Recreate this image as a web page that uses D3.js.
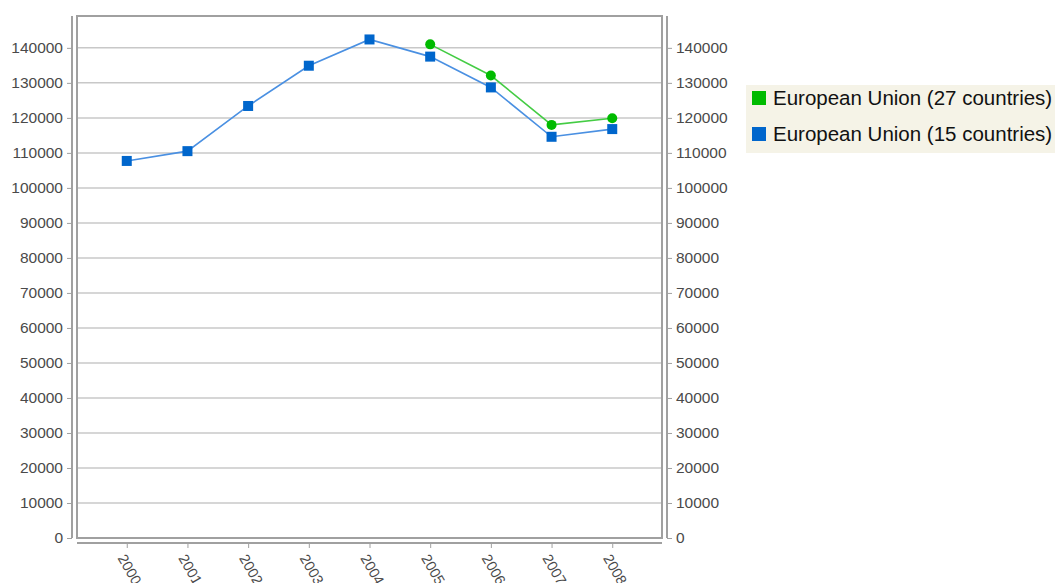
<!DOCTYPE html>
<html><head><meta charset="utf-8">
<script src="https://cdn.jsdelivr.net/npm/d3@7"></script>
<style>body{margin:0;background:#fff}svg{display:block}</style>
</head><body>
<svg id="c" width="1055" height="583"></svg>
<script>
const years = ["2000","2001","2002","2003","2004","2005","2006","2007","2008"];
const eu15 = [107700,110500,123400,134900,142400,137500,128700,114600,116800];
const eu27 = [null,null,null,null,null,141000,132100,118000,119900];
const yTicks = [0,10000,20000,30000,40000,50000,60000,70000,80000,90000,100000,110000,120000,130000,140000];
const seriesNames = ["European Union (27 countries)","European Union (15 countries)"];
const seriesColors = ["#00bb00","#0066cc"];

const svg = d3.select("#c");
const L = 77, R = 662, T = 16, B = 538;
const y = d3.scaleLinear().domain([0,149100]).range([B,T]);
const x = d3.scalePoint().domain(years).range([L,R]).padding(0.82);
const font = "'Liberation Sans', Arial, sans-serif";
const tc = "#4a4a4a";

// grid
svg.append("g").selectAll("line").data(yTicks.filter(d=>d>0)).join("line")
  .attr("x1",L).attr("x2",R).attr("y1",d=>y(d)).attr("y2",d=>y(d))
  .attr("stroke","#c8c8c8").attr("stroke-width",1.5);

// plot frame
svg.append("rect").attr("x",L).attr("y",T).attr("width",R-L).attr("height",B-T)
  .attr("fill","none").attr("stroke","#a0a0a0").attr("stroke-width",2);

// left axis
const la = svg.append("g").attr("transform",`translate(${L-5},0)`)
  .call(d3.axisLeft(y).tickValues(yTicks).tickSize(5).tickPadding(4).tickFormat(d3.format("d")));
// right axis
const ra = svg.append("g").attr("transform",`translate(${R+5},0)`)
  .call(d3.axisRight(y).tickValues(yTicks).tickSize(5).tickPadding(4).tickFormat(d3.format("d")));
[la,ra].forEach(g=>{
  g.select(".domain").attr("d",`M0,${T}V${B}`).attr("stroke","#a0a0a0").attr("stroke-width",2);
  g.selectAll(".tick line").attr("stroke","#a0a0a0");
  g.selectAll("text").attr("font-family",font).attr("font-size",15.5).attr("fill",tc);
});
// bottom axis
const ba = svg.append("g").attr("transform",`translate(0,${B+5})`)
  .call(d3.axisBottom(x).tickSize(5).tickPadding(0));
ba.select(".domain").attr("d",`M${L},0H${R}`).attr("stroke","#a0a0a0").attr("stroke-width",2);
ba.selectAll(".tick line").attr("stroke","#a0a0a0");
ba.selectAll("text").attr("font-family",font).attr("font-size",14.5).attr("fill",tc)
  .attr("text-anchor","start").attr("dy",0).attr("y",0)
  .attr("transform","translate(-10,15) rotate(60)");

// lines
const line = d3.line().defined(d=>d!=null).x((d,i)=>x(years[i])).y(d=>y(d));
svg.append("path").datum(eu15).attr("d",line).attr("fill","none").attr("stroke","#4a90e2").attr("stroke-width",1.6);
svg.append("path").datum(eu27).attr("d",line).attr("fill","none").attr("stroke","#44cc44").attr("stroke-width",1.6);

svg.append("g").selectAll("rect").data(eu15.map((v,i)=>({v,i}))).join("rect")
  .attr("x",d=>x(years[d.i])-5).attr("y",d=>y(d.v)-5).attr("width",10).attr("height",10)
  .attr("fill",seriesColors[1]);
svg.append("g").selectAll("circle").data(eu27.map((v,i)=>({v,i})).filter(d=>d.v!=null)).join("circle")
  .attr("cx",d=>x(years[d.i])).attr("cy",d=>y(d.v)).attr("r",5)
  .attr("fill",seriesColors[0]);

// legend
const lg = svg.append("g");
lg.append("rect").attr("x",746).attr("y",85).attr("width",309).attr("height",68).attr("fill","#f5f3e7");
seriesNames.forEach((n,i)=>{
  const cy = 98 + i*36;
  lg.append("rect").attr("x",752).attr("y",cy-7).attr("width",14).attr("height",14).attr("fill",seriesColors[i]);
  lg.append("text").attr("x",773).attr("y",cy).attr("dy","0.36em").attr("font-family",font)
    .attr("font-size",20.5).attr("fill","#111").text(n);
});
</script>
</body></html>
